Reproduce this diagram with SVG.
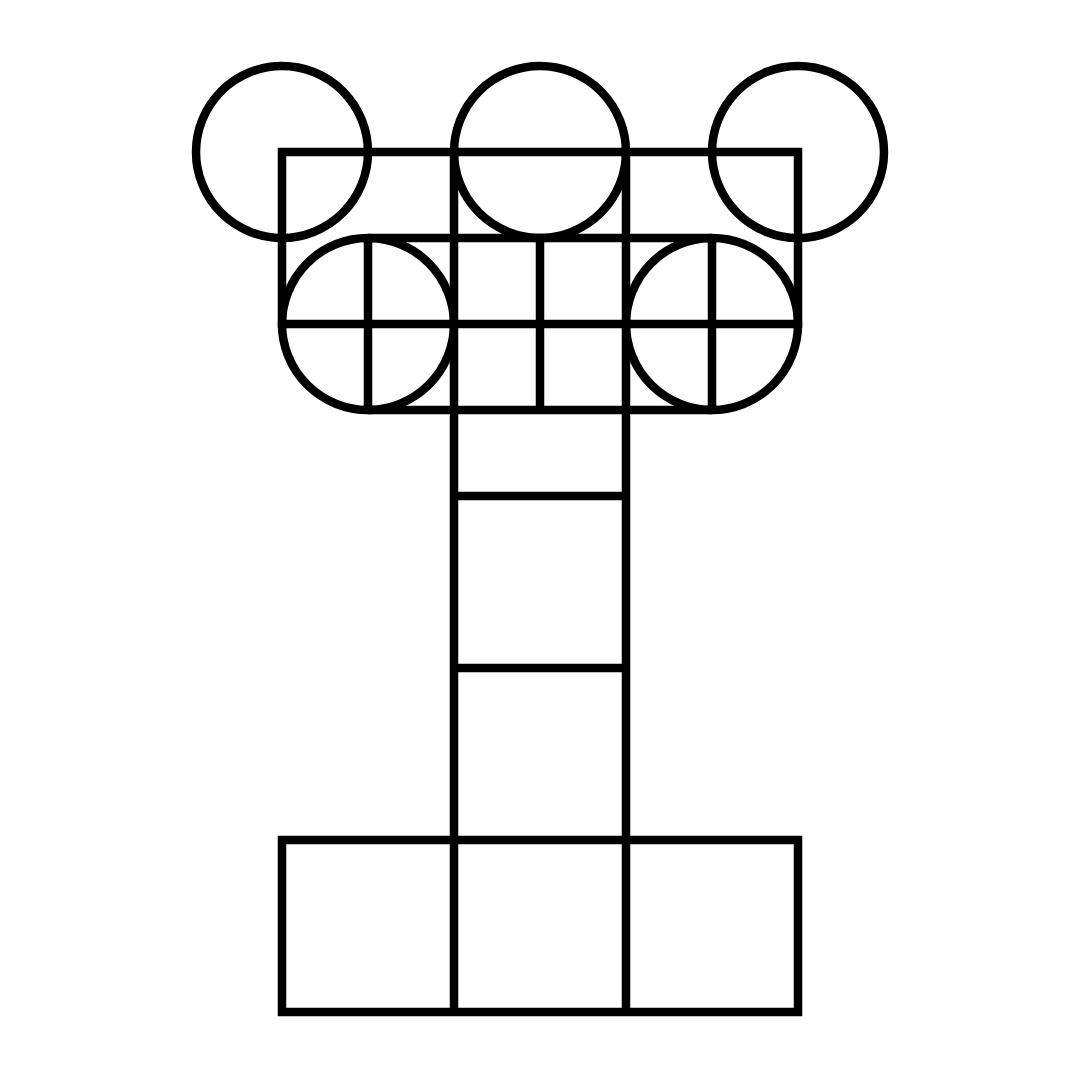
<svg xmlns="http://www.w3.org/2000/svg" width="1080" height="1080" viewBox="0 0 1080 1080">
<style>
.s{fill:none;stroke:#000;stroke-width:8.5}
</style>
<rect width="1080" height="1080" fill="#fff"/>
<g id="circles" class="s">
<circle cx="282" cy="152" r="86"/>
<circle cx="540" cy="152" r="86"/>
<circle cx="798" cy="152" r="86"/>
<circle cx="368" cy="324" r="86"/>
<circle cx="712" cy="324" r="86"/>
</g>
<g id="grid" class="s">
<rect x="282" y="152" width="516" height="172"/>
<rect x="282" y="840" width="516" height="172"/>
<line x1="454" y1="152" x2="454" y2="1014"/>
<line x1="626" y1="152" x2="626" y2="1014"/>
<line x1="368" y1="238" x2="368" y2="410"/>
<line x1="540" y1="238" x2="540" y2="410"/>
<line x1="712" y1="238" x2="712" y2="410"/>
<line x1="368" y1="238" x2="712" y2="238"/>
<line x1="368" y1="410" x2="712" y2="410"/>
<line x1="454" y1="496" x2="626" y2="496"/>
<line x1="454" y1="668" x2="626" y2="668"/>
</g>
</svg>
